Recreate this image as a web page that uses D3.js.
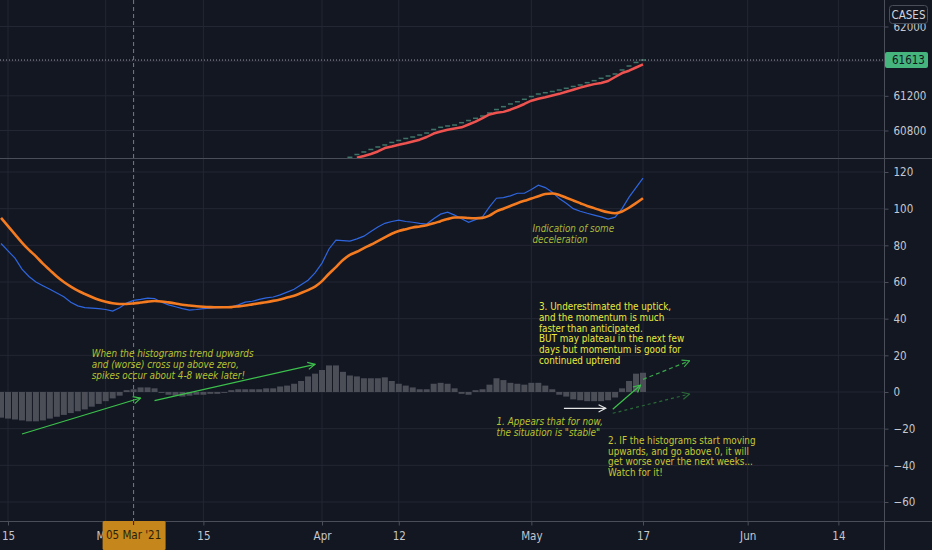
<!DOCTYPE html>
<html>
<head>
<meta charset="utf-8">
<script src="https://cdn.jsdelivr.net/npm/d3@7"></script>
<style>
  html, body { margin: 0; padding: 0; background: #131722; }
  svg { display: block; }
  text { font-family: 'Liberation Sans Narrow', 'DejaVu Sans Condensed', 'Roboto Condensed', sans-serif; }
</style>
</head>
<body>
<svg id="chart" width="932" height="550"></svg>
<script>
// momentum pane: one value per day, starting 14 Feb 2021
var momentumStart = "2021-02-14";
var momentum = [81, 77, 73, 67, 63, 60, 58, 56, 54, 52, 49, 47, 46, 45.8, 45.5, 45, 44.1, 46, 48.5, 50,
  50.5, 51.2, 51, 49, 47.5, 46.5, 45.5, 44.7, 45, 45.5, 45.8, 46, 46.2, 46.3, 47.5, 49, 49.5, 50.5, 51.3, 51.8,
  53, 54.5, 56, 58.5, 61, 65, 70.3, 78, 82.8, 82.6, 82.3, 83.5, 85, 87.5, 90, 92, 93, 93.7, 93, 92.6,
  92, 91.6, 94.5, 97, 98.1, 96.5, 94.5, 92.6, 94, 95.6, 101, 105.7, 106, 107, 108.4, 108.4, 110.5, 112.8, 111.5, 109,
  105.5, 103, 100, 98.6, 97.5, 96.5, 95.5, 94.3, 95.4, 100, 106.3, 111.5, 116.6];
var signal = [95, 90.5, 86, 81.5, 77.5, 74, 70, 66.5, 63, 60, 57.5, 55.3, 53.5, 51.8, 50.3, 49.2, 48.4, 48, 48, 48.3,
  48.8, 49.3, 49.6, 49.4, 48.9, 48.3, 47.6, 47.2, 46.8, 46.5, 46.3, 46.2, 46.2, 46.3, 46.7, 47.2, 47.8, 48.4, 49, 49.7,
  50.5, 51.5, 52.5, 54, 55.6, 57.5, 60.5, 64.5, 68.1, 72, 74.8, 76.5, 78.5, 80.3, 82.3, 84.3, 86.3, 87.8, 88.8, 89.7,
  90.3, 91, 92, 93.2, 94.3, 95.2, 95.2, 94.9, 94.8, 95, 96.2, 98.5, 100, 101.5, 103, 104.3, 105.5, 106.8, 108, 108.3,
  107.5, 106, 104.5, 103, 101.5, 100.3, 99, 98, 97.5, 98.5, 100.5, 103, 105.7];
var histogram = [-14, -14.5, -15, -15.5, -16, -16, -15.5, -14.5, -13.5, -12.5, -11.5, -10.5, -9.5, -8, -6.5, -5, -3.5, -2, 1, 1.5,
  2.5, 2.5, 2, -0.5, -1.5, -2, -2.5, -2, -1.5, -1.5, -1, -1, -0.5, 1, 1.5, 1.5, 1.5, 1.5, 2, 2,
  3, 3.5, 4.5, 6, 8.5, 10, 12, 14.5, 14.5, 11, 9, 8.5, 7.5, 7.5, 7.5, 8, 6, 4.5, 3.5, 2.5,
  1.5, 1.5, 4.5, 5, 4.5, 2, -1, -1.5, 1, 1.5, 4, 7.5, 6.5, 5, 4.5, 4, 5, 5, 3.5, 1.5,
  -1.5, -2.5, -4, -4.5, -5, -5, -5, -4.5, -3, 2, 6, 10, 10.5];

// cases pane: daily closes from 5 Apr, smoothed line from 6 Apr
var casesStart = "2021-04-05";
var cases = [60491, 60523, 60552, 60581, 60610, 60633, 60662, 60685, 60708, 60725, 60748, 60771, 60812, 60837, 60852,
  60863, 60890, 60915, 60941, 60967, 61002, 61042, 61075, 61106, 61132, 61160, 61192, 61221, 61236, 61250,
  61267, 61287, 61308, 61325, 61352, 61375, 61402, 61429, 61452, 61498, 61544, 61585, 61613];
var casesAvgStart = "2021-04-06";
var casesAvg = [60486, 60506, 60529, 60558, 60598, 60615, 60636, 60652, 60673, 60694, 60725, 60765, 60788, 60809,
  60823, 60837, 60869, 60902, 60944, 60985, 61005, 61015, 61040, 61071, 61106, 61144, 61167, 61184, 61204,
  61223, 61247, 61271, 61295, 61316, 61335, 61348, 61371, 61417, 61463, 61490, 61527, 61562];

var timeTicks = ["2021-02-15", "2021-03-01", "2021-03-15", "2021-04-01", "2021-04-12", "2021-05-01", "2021-05-17", "2021-06-01", "2021-06-14"];
var timeTickLabels = ["15", "Mar", "15", "Apr", "12", "May", "17", "Jun", "14"];
var momentumTicks = [-60, -40, -20, 0, 20, 40, 60, 80, 100, 120];
var casesTicks = [60800, 61200, 61600, 62000];
var crosshairDate = "2021-03-05";
var crosshairLabel = "05 Mar '21";
var lastCases = 61613;

// drawings: [day, value] anchors
var arrows = [
  {from: ["2021-02-17", -22.9], to: ["2021-03-06", -3.3], color: "#3cc24c", dash: null},
  {from: ["2021-03-08", -4.7], to: ["2021-03-31", 15.1], color: "#3cc24c", dash: null},
  {from: ["2021-05-05T16:00", -8.9], to: ["2021-05-11T16:00", -8.9], color: "#e6e6e6", dash: null},
  {from: ["2021-05-12T16:00", -9.4], to: ["2021-05-16T16:00", 3.8], color: "#3cc24c", dash: null},
  {from: ["2021-05-17", 6.9], to: ["2021-05-23T16:00", 17], color: "#3aa84a", dash: "4,3"},
  {from: ["2021-05-12T16:00", -11.6], to: ["2021-05-23T16:00", -1.1], color: "#2a6a38", dash: "3,3"}
];
var notes = [
  {at: ["2021-02-27", 19.1], color: "#b9c22e", italic: true,
   lines: ["When the histograms trend upwards", "and (worse) cross up above zero,", "spikes occur about 4-8 week later!"]},
  {at: ["2021-05-01T04:00", 87.2], color: "#a9b83a", italic: true,
   lines: ["Indication of some", "deceleration"]},
  {at: ["2021-05-02T02:00", 44.7], color: "#e9ea3c", italic: false,
   lines: ["3. Underestimated the uptick,", "and the momentum is much", "faster than anticipated.", "BUT may plateau in the next few", "days but momentum is good for", "continued uptrend"]},
  {at: ["2021-04-26", -18], color: "#b9c22e", italic: true,
   lines: ["1. Appears that for now,", "the situation is \"stable\""]},
  {at: ["2021-05-12T00:00", -28.3], color: "#c8c832", italic: false,
   lines: ["2. IF the histograms start moving", "upwards, and go above 0, it will", "get worse over the next weeks...", "Watch for it!"]}
];

var W = 932, H = 550;
var plotRight = 884, topBottom = 158, botTop = 159, botBottom = 521;
var bg = "#131722", grid = "#232733", sep = "#4a4e59", axisText = "#c4c7ce";

var parse = function(s) { return new Date(s + (s.length > 10 ? ":00Z" : "T00:00:00Z")); };

var svg = d3.select("#chart");
svg.append("rect").attr("width", W).attr("height", H).attr("fill", bg);

var x = d3.scaleUtc().domain([parse("2021-02-15"), parse("2021-05-17")]).range([8, 643]);
var yTop = d3.scaleLinear().domain([60800, 62000]).range([130.5, 26.5]);
var yBot = d3.scaleLinear().domain([-60, 120]).range([502, 172]);

var momentumDays = momentum.map(function(d, i) { return d3.utcDay.offset(parse(momentumStart), i); });
var casesDays = cases.map(function(d, i) { return d3.utcDay.offset(parse(casesStart), i); });
var casesAvgDays = casesAvg.map(function(d, i) { return d3.utcDay.offset(parse(casesAvgStart), i); });

var defs = svg.append("defs");
defs.append("clipPath").attr("id", "clipTop").append("rect")
  .attr("x", 0).attr("y", 0).attr("width", plotRight).attr("height", topBottom);
defs.append("clipPath").attr("id", "clipBot").append("rect")
  .attr("x", 0).attr("y", botTop).attr("width", plotRight).attr("height", botBottom - botTop);

// grid
var gridG = svg.append("g");
timeTicks.forEach(function(t) {
  gridG.append("line").attr("x1", x(parse(t))).attr("x2", x(parse(t)))
    .attr("y1", 0).attr("y2", botBottom).attr("stroke", grid);
});
casesTicks.forEach(function(v) {
  gridG.append("line").attr("x1", 0).attr("x2", plotRight).attr("y1", yTop(v)).attr("y2", yTop(v)).attr("stroke", grid);
});
momentumTicks.forEach(function(v) {
  gridG.append("line").attr("x1", 0).attr("x2", plotRight).attr("y1", yBot(v)).attr("y2", yBot(v)).attr("stroke", grid);
});

// crosshair
svg.append("line").attr("x1", x(parse(crosshairDate))).attr("x2", x(parse(crosshairDate)))
  .attr("y1", 0).attr("y2", botBottom).attr("stroke", "#787b86").attr("stroke-dasharray", "4,3");

// top pane
var topG = svg.append("g").attr("clip-path", "url(#clipTop)");
topG.selectAll("line.bar").data(cases).enter().append("line").attr("class", "bar")
  .attr("x1", function(d, i) { return x(casesDays[i]) - 2.5; })
  .attr("x2", function(d, i) { return x(casesDays[i]) + 2.5; })
  .attr("y1", function(d) { return yTop(d); }).attr("y2", function(d) { return yTop(d); })
  .attr("stroke", "#3f7568").attr("stroke-width", 1.5);
topG.append("path").datum(casesAvg)
  .attr("d", d3.line().x(function(d, i) { return x(casesAvgDays[i]); }).y(function(d) { return yTop(d); }))
  .attr("fill", "none").attr("stroke", "#ef5350").attr("stroke-width", 2.5).attr("stroke-linejoin", "round");
svg.append("line").attr("x1", 0).attr("x2", plotRight).attr("y1", yTop(lastCases)).attr("y2", yTop(lastCases))
  .attr("stroke", "#9a9da6").attr("stroke-dasharray", "1,2");

// bottom pane
var botG = svg.append("g").attr("clip-path", "url(#clipBot)");
botG.selectAll("rect.hist").data(histogram).enter().append("rect").attr("class", "hist")
  .attr("x", function(d, i) { return x(momentumDays[i]) - 3; })
  .attr("width", 6)
  .attr("y", function(d) { return Math.min(yBot(d), yBot(0)); })
  .attr("height", function(d) { return Math.abs(yBot(d) - yBot(0)); })
  .attr("fill", "#4b4e57");
botG.append("path").datum(momentum)
  .attr("d", d3.line().x(function(d, i) { return x(momentumDays[i]); }).y(function(d) { return yBot(d); }))
  .attr("fill", "none").attr("stroke", "#2e66e0").attr("stroke-width", 1.2);
botG.append("path").datum(signal)
  .attr("d", d3.line().curve(d3.curveMonotoneX).x(function(d, i) { return x(momentumDays[i]); }).y(function(d) { return yBot(d); }))
  .attr("fill", "none").attr("stroke", "#f47b20").attr("stroke-width", 2.6).attr("stroke-linejoin", "round");

// drawings
arrows.forEach(function(a, k) {
  var id = "head" + k;
  defs.append("marker").attr("id", id).attr("viewBox", "0 0 10 10").attr("refX", 9).attr("refY", 5)
    .attr("markerWidth", 9).attr("markerHeight", 9).attr("markerUnits", "userSpaceOnUse").attr("orient", "auto")
    .append("path").attr("d", "M1,1 L9,5 L1,9").attr("fill", "none").attr("stroke", a.color).attr("stroke-width", 1.3);
  botG.append("line")
    .attr("x1", x(parse(a.from[0]))).attr("y1", yBot(a.from[1]))
    .attr("x2", x(parse(a.to[0]))).attr("y2", yBot(a.to[1]))
    .attr("stroke", a.color).attr("stroke-width", 1.2)
    .attr("stroke-dasharray", a.dash).attr("marker-end", "url(#" + id + ")");
});
// notes: squeezed a bit horizontally, like the narrow drawing font
notes.forEach(function(n) {
  var t = svg.append("text")
    .attr("transform", "translate(" + x(parse(n.at[0])) + "," + yBot(n.at[1]) + ") scale(0.91,1)")
    .attr("fill", n.color).attr("font-size", 10.8).attr("font-style", n.italic ? "italic" : "normal");
  n.lines.forEach(function(l, j) {
    t.append("tspan").attr("x", 0).attr("dy", j === 0 ? 0 : 10.8).text(l);
  });
});

// separators
svg.append("line").attr("x1", 0).attr("x2", W).attr("y1", topBottom + 0.5).attr("y2", topBottom + 0.5).attr("stroke", sep);
svg.append("line").attr("x1", 0).attr("x2", W).attr("y1", botBottom + 0.5).attr("y2", botBottom + 0.5).attr("stroke", sep);
svg.append("line").attr("x1", plotRight + 0.5).attr("x2", plotRight + 0.5).attr("y1", 0).attr("y2", H).attr("stroke", sep);

// right axes
var axTop = svg.append("g").attr("transform", "translate(" + (plotRight + 0.5) + ",0)")
  .call(d3.axisRight(yTop).tickValues(casesTicks).tickSize(4).tickPadding(5).tickFormat(d3.format("d")));
var axBot = svg.append("g").attr("transform", "translate(" + (plotRight + 0.5) + ",0)")
  .call(d3.axisRight(yBot).tickValues(momentumTicks).tickSize(4).tickPadding(5)
    .tickFormat(function(d) { return d < 0 ? "\u2212" + Math.abs(d) : d; }));
[axTop, axBot].forEach(function(a) {
  a.select(".domain").remove();
  a.selectAll("line").attr("stroke", sep);
  a.selectAll("text").attr("fill", axisText).attr("font-size", 11.5).attr("font-family", null);
});

// bottom time axis
var axX = svg.append("g").attr("transform", "translate(0," + (botBottom + 0.5) + ")")
  .call(d3.axisBottom(x).tickValues(timeTicks.map(parse)).tickSize(4).tickPadding(6)
    .tickFormat(function(d, i) { return timeTickLabels[i]; }));
axX.select(".domain").remove();
axX.selectAll("line").attr("stroke", sep);
axX.selectAll("text").attr("fill", axisText).attr("font-size", 11.5).attr("font-family", null);

// crosshair label
var cx = x(parse(crosshairDate));
svg.append("rect").attr("x", cx - 31).attr("y", botBottom).attr("width", 63).attr("height", 29)
  .attr("fill", "#c5861c").attr("rx", 1.5);
svg.append("line").attr("x1", cx).attr("x2", cx).attr("y1", botBottom).attr("y2", botBottom + 4).attr("stroke", "#2a1f0a");
svg.append("text").attr("x", cx).attr("y", botBottom + 18).attr("text-anchor", "middle")
  .attr("fill", "#2a1f0a").attr("font-size", 11.5).text(crosshairLabel);

// last value label
var ly = yTop(lastCases);
svg.append("rect").attr("x", plotRight + 1).attr("y", ly - 8).attr("width", 43).attr("height", 16)
  .attr("fill", "#45b47d").attr("rx", 2);
svg.append("text").attr("x", plotRight + 8).attr("y", ly + 4).attr("fill", "#131722")
  .attr("font-size", 11.5).text(d3.format("d")(lastCases));

// symbol label (partly covers the 62000 tick, as in the app)
svg.append("rect").attr("x", 889.5).attr("y", 5.5).attr("width", 38).attr("height", 18)
  .attr("fill", bg).attr("stroke", "#4a4e59").attr("rx", 3);
svg.append("text").attr("x", 908.5).attr("y", 18.5).attr("text-anchor", "middle")
  .attr("fill", "#d1d4dc").attr("font-size", 11.5).text("CASES");
</script>
</body>
</html>
